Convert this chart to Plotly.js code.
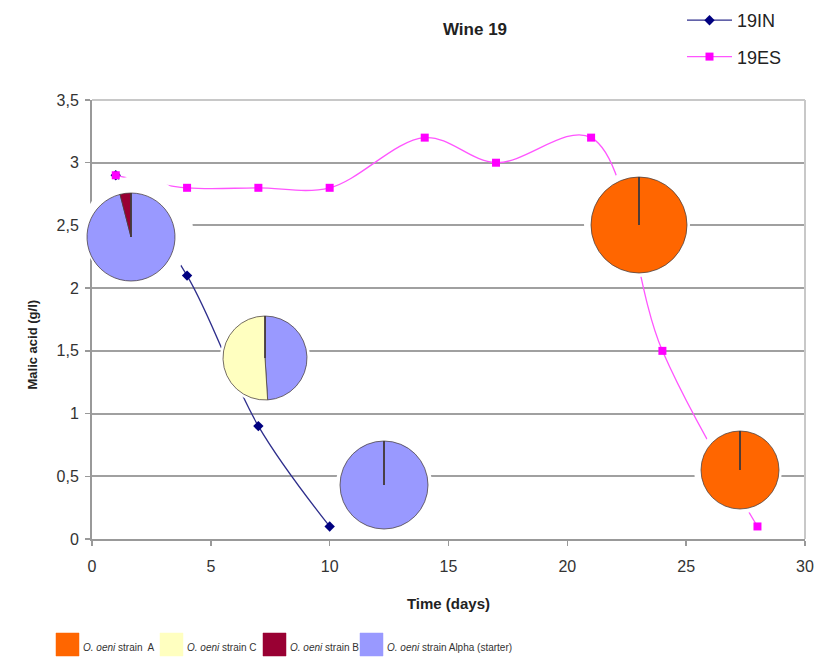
<!DOCTYPE html>
<html>
<head>
<meta charset="utf-8">
<script src="https://cdn.plot.ly/plotly-3.0.1.min.js"></script>
<style>
  html, body { margin: 0; padding: 0; background: #fff; }
  #chart { width: 819px; height: 657px; }
</style>
</head>
<body>
<div id="chart"></div>
<script>
// Malic acid over time, wine 19
const days19IN = [1, 4, 7, 10];
const malic19IN = [2.9, 2.1, 0.9, 0.1];
const days19ES = [1, 4, 7, 10, 14, 17, 21, 24, 28];
const malic19ES = [2.9, 2.8, 2.8, 2.8, 3.2, 3.0, 3.2, 1.5, 0.1];

// Oenococcus strain populations (%) shown as pies
const strainLabels = ['<i>O. oeni</i> strain  A', '<i>O. oeni</i> strain C', '<i>O. oeni</i> strain B', '<i>O. oeni</i> strain Alpha (starter)'];
const strainColors = ['#FF6600', '#FFFFC0', '#990033', '#9999FF'];
const pieIN1 = [0, 0, 4, 96];
const pieIN2 = [0, 51, 0, 49];
const pieIN3 = [0, 0, 0, 100];
const pieES1 = [100, 0, 0, 0];
const pieES2 = [100, 0, 0, 0];

const W = 819, H = 657;
// plot area in pixels
const PL = 92, PR = 805, PT = 100, PB = 539;

// pie placement (pixels): centre, radius, and the white backing disc
const pieSpots = [
  { v: pieIN1, cx: 131, cy: 237, r: 44, mx: 138, my: 231, mr: 55 },
  { v: pieIN2, cx: 265, cy: 358, r: 42, mx: 265, my: 358, mr: 45 },
  { v: pieIN3, cx: 384, cy: 485, r: 44, mx: 384, my: 485, mr: 48 },
  { v: pieES1, cx: 639, cy: 225, r: 48, mx: 637, my: 224, mr: 53 },
  { v: pieES2, cx: 740, cy: 470, r: 39, mx: 738, my: 470, mr: 44 }
];

function dom(cx, cy, r) {
  return { x: [(cx - r) / W, (cx + r) / W], y: [1 - (cy + r) / H, 1 - (cy - r) / H] };
}

// slices run counter-clockwise from 12 o'clock in strain order; drawn clockwise
// in reverse so the empty slices come last and leave a radius line at the top
function orderSlices(vals) {
  const idx = vals.map((v, i) => i);
  const full = idx.filter(i => vals[i] > 0).reverse();
  const empty = idx.filter(i => !(vals[i] > 0));
  const ord = full.concat(empty);
  return {
    values: ord.map(i => vals[i]),
    labels: ord.map(i => strainLabels[i]),
    colors: ord.map(i => strainColors[i])
  };
}

const traces = [
  {
    type: 'scatter', mode: 'lines+markers', name: '19IN',
    x: days19IN, y: malic19IN, legendgroup: 'a',
    line: { color: '#2e2e8c', width: 1.3, shape: 'spline' },
    marker: { symbol: 'diamond', size: 8, color: '#000080' }
  },
  {
    type: 'scatter', mode: 'lines+markers', name: '19ES',
    x: days19ES, y: malic19ES, legendgroup: 'b',
    line: { color: '#ff55ff', width: 1.3, shape: 'spline' },
    marker: { symbol: 'square', size: 8, color: '#ff00ff' }
  }
];

// white backing discs first, then the pies on top
pieSpots.forEach(p => {
  traces.push({
    type: 'pie', values: [1], labels: ['bg'], sort: false,
    marker: { colors: ['#ffffff'], line: { width: 0 } },
    textinfo: 'none', hoverinfo: 'skip', showlegend: false,
    domain: dom(p.mx, p.my, p.mr)
  });
});
pieSpots.forEach(p => {
  const s = orderSlices(p.v);
  traces.push({
    type: 'pie', values: s.values, labels: s.labels, sort: false,
    direction: 'clockwise', rotation: 0,
    marker: { colors: s.colors, line: { color: 'rgba(70,60,60,0.75)', width: 1 } },
    textinfo: 'none', hoverinfo: 'label+percent', showlegend: false,
    domain: dom(p.cx, p.cy, p.r)
  });
});

const shapes = [
  // light frame on top and right
  { type: 'line', xref: 'paper', yref: 'paper', x0: PL / W, x1: PR / W, y0: 1 - PT / H, y1: 1 - PT / H,
    line: { color: '#c8c8c8', width: 2 }, layer: 'above' },
  { type: 'line', xref: 'paper', yref: 'paper', x0: PR / W, x1: PR / W, y0: 1 - PT / H, y1: 1 - PB / H,
    line: { color: '#c8c8c8', width: 2 }, layer: 'above' }
];
const annotations = [
  { text: '<b>Malic acid (g/l)</b>', textangle: -90, xref: 'paper', yref: 'paper',
    x: 22 / W, y: 1 - 345 / H, showarrow: false, font: { size: 13, color: '#222' } }
];
// strain key along the bottom
const keyX = [56, 160, 263, 360];
strainLabels.forEach((lab, i) => {
  shapes.push({ type: 'rect', xref: 'paper', yref: 'paper',
    x0: keyX[i] / W, x1: (keyX[i] + 23) / W, y0: 1 - 656 / H, y1: 1 - 633 / H,
    fillcolor: strainColors[i], line: { color: strainColors[i], width: 0.5 } });
  annotations.push({ text: lab, xref: 'paper', yref: 'paper', xanchor: 'left', yanchor: 'middle',
    x: (keyX[i] + 25) / W, y: 1 - 647 / H, showarrow: false,
    font: { size: 10, color: '#333' } });
});

const layout = {
  width: W, height: H,
  margin: { l: 0, r: 0, t: 0, b: 0, autoexpand: false },
  paper_bgcolor: '#ffffff', plot_bgcolor: '#ffffff',
  font: { family: 'Arial, Liberation Sans, sans-serif', color: '#333' },
  separators: ',.',
  title: { text: '<b>Wine 19</b>', x: 475 / W, xanchor: 'center', y: 1 - 29 / H, yanchor: 'middle',
    font: { size: 17, color: '#222' } },
  xaxis: {
    domain: [PL / W, PR / W], range: [0, 30], dtick: 5, tick0: 0,
    showgrid: false, zeroline: false,
    showline: true, linecolor: '#999', linewidth: 2,
    ticks: 'outside', ticklen: 5, tickwidth: 1.5, tickcolor: '#999',
    ticklabelstandoff: 7,
    tickfont: { size: 16, color: '#333' },
    title: { text: '<b>Time (days)</b>', font: { size: 15, color: '#222' }, standoff: 24 }
  },
  yaxis: {
    domain: [1 - PB / H, 1 - PT / H], range: [0, 3.5], dtick: 0.5, tick0: 0,
    showgrid: true, gridcolor: '#a0a0a0', gridwidth: 2, zeroline: false,
    showline: true, linecolor: '#999', linewidth: 2,
    ticks: 'outside', ticklen: 5, tickwidth: 1.5, tickcolor: '#999',
    ticklabelstandoff: 3,
    tickfont: { size: 16, color: '#333' }
  },
  legend: {
    x: 682 / W, y: 1 - 2 / H, xanchor: 'left', yanchor: 'top',
    font: { size: 18, color: '#222' }, tracegroupgap: 10, itemwidth: 45,
    bgcolor: 'rgba(0,0,0,0)'
  },
  shapes: shapes,
  annotations: annotations
};

Plotly.newPlot('chart', traces, layout, { displayModeBar: false, staticPlot: true });
</script>
</body>
</html>
